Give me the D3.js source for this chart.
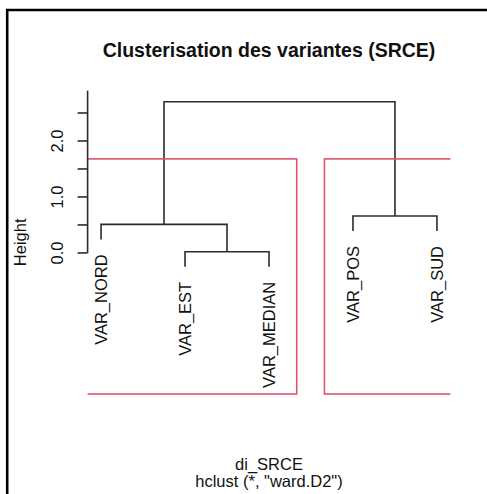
<!DOCTYPE html>
<html>
<head>
<meta charset="utf-8">
<script src="https://cdn.jsdelivr.net/npm/d3@7"></script>
<style>
  html, body { margin: 0; padding: 0; background: #fff; }
  svg { display: block; font-family: "Liberation Sans", Arial, Helvetica, sans-serif; }
</style>
</head>
<body>
<svg id="chart" width="487" height="494"></svg>
<script>
// ---- data ----
const leafLabels = ["VAR_NORD", "VAR_EST", "VAR_MEDIAN", "VAR_POS", "VAR_SUD"];
// hclust merge matrix (negative = leaf index, positive = previous merge step)
const mergeLeft   = [-2, -1, -4, 2];
const mergeRight  = [-3,  1, -5, 3];
const mergeHeight = [0.02, 0.51, 0.66, 2.70];
const yTicks = [0, 0.5, 1, 1.5, 2, 2.5];
const yTickLabels = [0, 1, 2];
const kClusters = 2;
const titleText = "Clusterisation des variantes (SRCE)";
const xTitle = "di_SRCE";
const subTitle = 'hclust (*, "ward.D2")';
const yTitle = "Height";

// ---- layout ----
const svg = d3.select("#chart");
const W = 487, H = 494;
const plot = { left: 87.6, right: 450.4, top: 90.6, bottom: 394 };
const yDomainMin = -2.52, yDomainMax = 2.90;
const hang = 0.1 * (d3.max(mergeHeight) - d3.min(mergeHeight));

const x = d3.scaleLinear().domain([0.84, leafLabels.length + 0.16]).range([plot.left, plot.right]);
const y = d3.scaleLinear().domain([yDomainMin, yDomainMax]).range([plot.bottom, plot.top]);

const ink = "#2b2b2b";
const red = "#DF536B";

// frame
svg.append("path")
  .attr("d", `M7.2,${H + 2} L7.2,10 L${W + 2},10`)
  .attr("fill", "none").attr("stroke", "#000").attr("stroke-width", 2.6);

// clip for plot region
svg.append("clipPath").attr("id", "clip").append("rect")
  .attr("x", plot.left).attr("y", plot.top - 1)
  .attr("width", plot.right - plot.left).attr("height", plot.bottom - plot.top + 2);

// ---- build tree positions ----
const nodePos = []; // for each merge: {x, h}
function childInfo(c) {
  if (c < 0) {
    const i = -c; // 1-based leaf index
    return { x: i, h: null, leaf: i };
  }
  return { x: nodePos[c - 1].x, h: nodePos[c - 1].h, leaf: null };
}
const g = svg.append("g");
const segs = [];
const leafTops = {};
mergeLeft.forEach((l, k) => {
  const h = mergeHeight[k];
  const a = childInfo(l), b = childInfo(mergeRight[k]);
  const ya = a.leaf ? h - hang : a.h;
  const yb = b.leaf ? h - hang : b.h;
  if (a.leaf) leafTops[a.leaf] = ya;
  if (b.leaf) leafTops[b.leaf] = yb;
  segs.push([[a.x, ya], [a.x, h], [b.x, h], [b.x, yb]]);
  nodePos.push({ x: (a.x + b.x) / 2, h: h });
});

const line = d3.line().x(d => x(d[0])).y(d => y(d[1]));
g.selectAll("path.dend").data(segs).join("path")
  .attr("class", "dend")
  .attr("d", line)
  .attr("fill", "none").attr("stroke", ink).attr("stroke-width", 1.6);

// leaf labels
g.selectAll("text.leaf").data(leafLabels).join("text")
  .attr("class", "leaf")
  .attr("transform", (d, i) => `translate(${x(i + 1)},${y(leafTops[i + 1]) + 15}) rotate(-90)`)
  .attr("text-anchor", "end")
  .attr("dy", "0.36em")
  .attr("font-size", 16.5)
  .attr("fill", "#111")
  .text(d => d);

// ---- rect.hclust (k = 2) ----
const sortedH = mergeHeight.slice().sort((a, b) => b - a);
const cutH = (sortedH[kClusters - 2] + sortedH[kClusters - 1]) / 2;
// cluster membership from top merge
function leavesOf(c) {
  if (c < 0) return [-c];
  return leavesOf(mergeLeft[c - 1]).concat(leavesOf(mergeRight[c - 1]));
}
const topIdx = mergeLeft.length - 1;
const clusters = [leavesOf(mergeLeft[topIdx]), leavesOf(mergeRight[topIdx])];
const rg = svg.append("g").attr("clip-path", "url(#clip)");
rg.selectAll("rect").data(clusters).join("rect")
  .attr("x", d => x(d3.min(d) - 0.34))
  .attr("width", d => x(d3.max(d) + 0.33) - x(d3.min(d) - 0.34))
  .attr("y", y(cutH))
  .attr("height", y(yDomainMin) - y(cutH))
  .attr("fill", "none").attr("stroke", red).attr("stroke-width", 1.6);

// ---- y axis ----
const ax = svg.append("g");
ax.append("line")
  .attr("x1", plot.left).attr("x2", plot.left)
  .attr("y1", y(0)).attr("y2", plot.top)
  .attr("stroke", ink).attr("stroke-width", 1.6);
ax.selectAll("line.tick").data(yTicks).join("line")
  .attr("class", "tick")
  .attr("x1", plot.left).attr("x2", plot.left - 10)
  .attr("y1", d => y(d)).attr("y2", d => y(d))
  .attr("stroke", ink).attr("stroke-width", 1.6);
ax.selectAll("text").data(yTickLabels).join("text")
  .attr("transform", d => `translate(63,${y(d)}) rotate(-90)`)
  .attr("text-anchor", "middle")
  .attr("font-size", 16.5)
  .attr("fill", "#111")
  .text(d => d.toFixed(1));

// y title
svg.append("text")
  .attr("transform", `translate(26,${(plot.top + plot.bottom) / 2}) rotate(-90)`)
  .attr("text-anchor", "middle")
  .attr("font-size", 16.5)
  .attr("fill", "#111")
  .text(yTitle);

// title
const cx = (plot.left + plot.right) / 2;
svg.append("text")
  .attr("x", cx).attr("y", 57)
  .attr("text-anchor", "middle")
  .attr("font-size", 19.5).attr("font-weight", "bold")
  .attr("fill", "#111")
  .text(titleText);

svg.append("text")
  .attr("x", cx).attr("y", 470)
  .attr("text-anchor", "middle")
  .attr("font-size", 16.5).attr("fill", "#111")
  .text(xTitle);
svg.append("text")
  .attr("x", cx).attr("y", 487)
  .attr("text-anchor", "middle")
  .attr("font-size", 16.5).attr("fill", "#111")
  .text(subTitle);
</script>
</body>
</html>
